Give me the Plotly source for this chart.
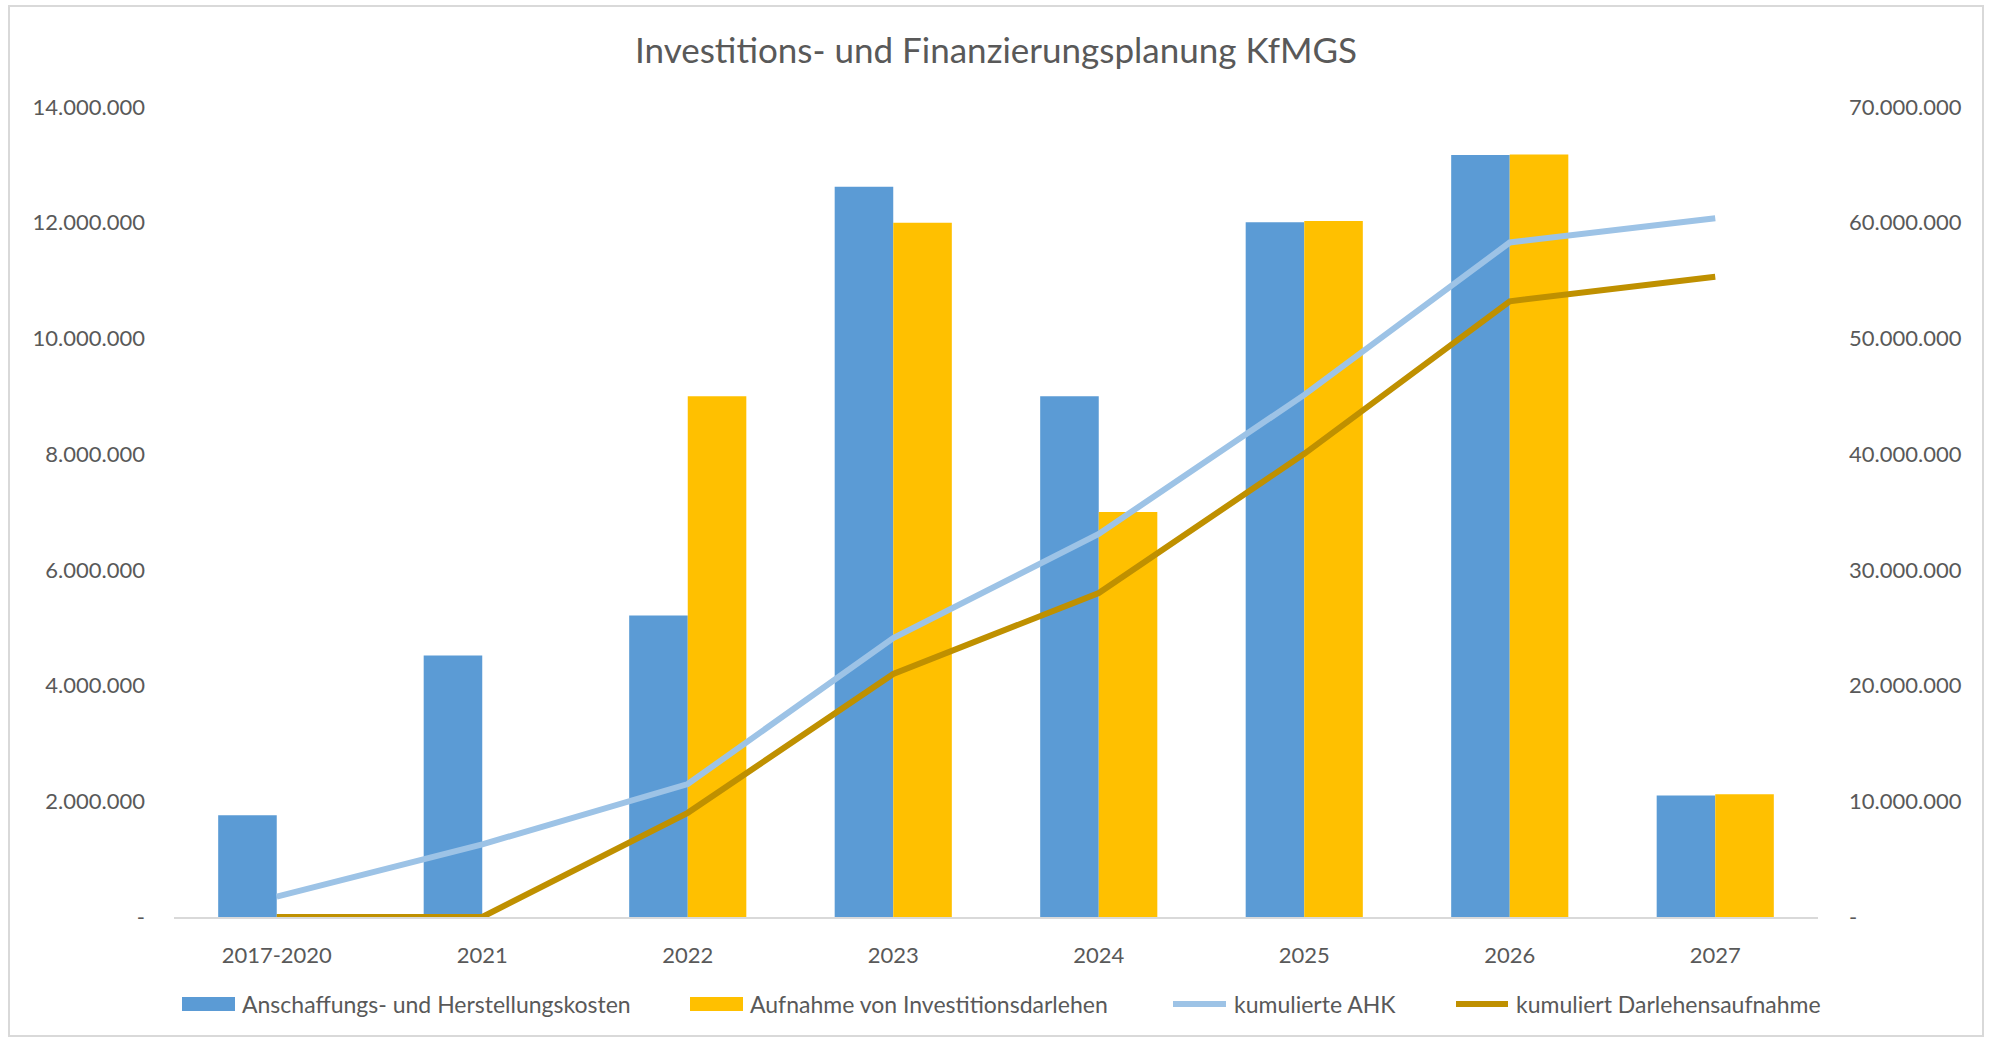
import plotly.graph_objects as go

categories = ["2017-2020", "2021", "2022", "2023", "2024", "2025", "2026", "2027"]
ahk = [1760000, 4520000, 5210000, 12620000, 9000000, 12010000, 13170000, 2100000]
darlehen = [0, 0, 9000000, 12000000, 7000000, 12030000, 13180000, 2120000]
kum_ahk = [1760000, 6280000, 11490000, 24110000, 33110000, 45120000, 58290000, 60390000]
kum_darlehen = [0, 0, 9000000, 21000000, 28000000, 40030000, 53210000, 55330000]

series_names = ["Anschaffungs- und Herstellungskosten", "Aufnahme von Investitionsdarlehen",
                "kumulierte AHK", "kumuliert Darlehensaufnahme"]
series_colors = ["#5B9BD5", "#FFC000", "#9DC3E6", "#BF9000"]

left_ticks = [0, 2000000, 4000000, 6000000, 8000000, 10000000, 12000000, 14000000]
left_labels = ["-", "2.000.000", "4.000.000", "6.000.000", "8.000.000", "10.000.000", "12.000.000", "14.000.000"]
right_ticks = [0, 10000000, 20000000, 30000000, 40000000, 50000000, 60000000, 70000000]
right_labels = ["-", "10.000.000", "20.000.000", "30.000.000", "40.000.000", "50.000.000", "60.000.000", "70.000.000"]

FONT = "Lato, 'Open Sans', sans-serif"
GREY = "#595959"

fig = go.Figure()
fig.add_trace(go.Bar(x=categories, y=ahk, name=series_names[0],
                     marker=dict(color=series_colors[0], line=dict(width=0))))
fig.add_trace(go.Bar(x=categories, y=darlehen, name=series_names[1],
                     marker=dict(color=series_colors[1], line=dict(width=0))))
fig.add_trace(go.Scatter(x=categories, y=kum_ahk, name=series_names[2], mode="lines",
                         line=dict(color=series_colors[2], width=6), yaxis="y2"))
fig.add_trace(go.Scatter(x=categories, y=kum_darlehen, name=series_names[3], mode="lines",
                         line=dict(color=series_colors[3], width=6), yaxis="y2"))

W, H = 1989, 1040
L, R, T, B = 174, W - 1818, 107, H - 917

def px_x(p):
    return (p - L) / (W - L - R)

def px_y(p):
    return (H - B - p) / (H - T - B)

shapes = [dict(type="rect", xref="paper", yref="paper", x0=px_x(9), x1=px_x(1983),
               y0=px_y(1036), y1=px_y(6), line=dict(color="#D9D9D9", width=2),
               fillcolor="rgba(0,0,0,0)", layer="below")]
annotations = []

# custom legend (swatch x start, swatch x end, text x start in px)
legend_pos = [(182, 235, 240), (690, 743, 748), (1171, 1228, 1232), (1454, 1510, 1514)]
LEG_Y = 1004
for i, (sx0, sx1, tx) in enumerate(legend_pos):
    if i < 2:
        shapes.append(dict(type="rect", xref="paper", yref="paper", x0=px_x(sx0), x1=px_x(sx1),
                           y0=px_y(LEG_Y + 7), y1=px_y(LEG_Y - 7), fillcolor=series_colors[i],
                           line=dict(width=0)))
    else:
        shapes.append(dict(type="line", xref="paper", yref="paper", x0=px_x(sx0 + 2), x1=px_x(sx1 - 2),
                           y0=px_y(LEG_Y), y1=px_y(LEG_Y), line=dict(color=series_colors[i], width=6)))
    annotations.append(dict(text=series_names[i], xref="paper", yref="paper", x=px_x(tx), y=px_y(LEG_Y),
                            xanchor="left", yanchor="middle", showarrow=False,
                            font=dict(family=FONT, size=23, color=GREY)))

fig.update_layout(
    width=W, height=H,
    margin=dict(l=L, r=R, t=T, b=B),
    paper_bgcolor="white", plot_bgcolor="white",
    font=dict(family=FONT, size=22, color=GREY),
    title=dict(text="Investitions- und Finanzierungsplanung KfMGS", x=0.5, xref="paper",
               xanchor="center", y=1 - 51 / H, yanchor="middle",
               font=dict(family=FONT, size=35, color=GREY)),
    barmode="group", bargap=0.43, bargroupgap=0,
    showlegend=False,
    xaxis=dict(type="category", range=[-0.5, 7.5], showline=True, linecolor="#D9D9D9", linewidth=2,
               showgrid=False, ticks="", ticklabelstandoff=18,
               tickfont=dict(family=FONT, size=22, color=GREY)),
    yaxis=dict(range=[0, 14000000], tickvals=left_ticks, ticktext=left_labels, showgrid=False,
               zeroline=False, showline=False, ticks="", ticklabelstandoff=28,
               tickfont=dict(family=FONT, size=22, color=GREY)),
    yaxis2=dict(range=[0, 70000000], tickvals=right_ticks, ticktext=right_labels, overlaying="y",
                side="right", showgrid=False, zeroline=False, showline=False, ticks="",
                ticklabelstandoff=30, tickfont=dict(family=FONT, size=22, color=GREY)),
    shapes=shapes,
    annotations=annotations,
)

fig.write_html("out.html", config={"displayModeBar": False},
               post_script="document.body.style.margin='0';document.body.style.overflow='hidden';")
